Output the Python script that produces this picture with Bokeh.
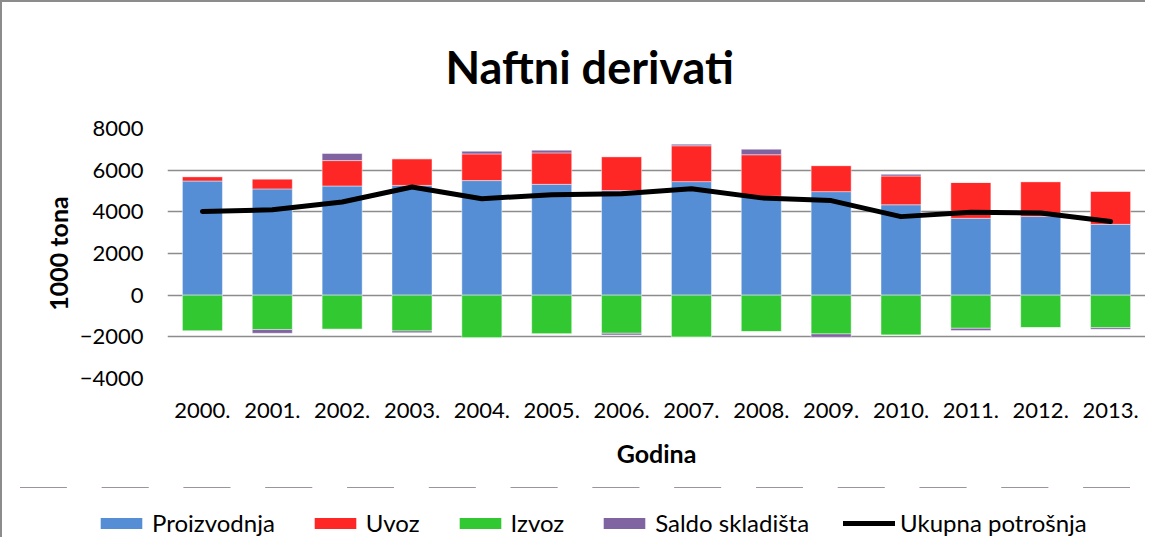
from bokeh.plotting import figure
from bokeh.layouts import column, row
from bokeh.models import (Range1d, FactorRange, FixedTicker, Legend, LegendItem,
                          ColumnDataSource)
from bokeh.embed import file_html
from bokeh.resources import INLINE

years = ["2000.", "2001.", "2002.", "2003.", "2004.", "2005.", "2006.",
         "2007.", "2008.", "2009.", "2010.", "2011.", "2012.", "2013."]
proizvodnja = [5480, 5100, 5240, 5270, 5500, 5320, 5020, 5450, 4750, 4970, 4340, 3690, 3780, 3400]
uvoz = [210, 480, 1220, 1280, 1280, 1510, 1630, 1720, 1990, 1250, 1380, 1720, 1670, 1590]
izvoz = [-1720, -1650, -1640, -1720, -2050, -1860, -1830, -2020, -1750, -1860, -1920, -1590, -1560, -1560]
saldo = [0, -180, 340, -80, 130, 130, -80, 80, 270, -160, 80, -110, 0, -80]
potrosnja = [4020, 4100, 4470, 5190, 4630, 4820, 4870, 5110, 4670, 4540, 3770, 3980, 3940, 3540]
y_ticks = [-4000, -2000, 0, 2000, 4000, 6000, 8000]
series_names = ["Proizvodnja", "Uvoz", "Izvoz", "Saldo skladišta", "Ukupna potrošnja"]

FONT = "Lato"
C_BLUE = "#558ED5"
C_RED = "#FF2626"
C_GREEN = "#32C832"
C_PURPLE = "#8064A2"
BORDER = "2px solid #8c8c8c"

pu_top = [a + b for a, b in zip(proizvodnja, uvoz)]
src = ColumnDataSource(dict(
    x=years,
    zero=[0] * len(years),
    pro=proizvodnja,
    pu=pu_top,
    izv=izvoz,
    s_pos_top=[t + max(s, 0) for t, s in zip(pu_top, saldo)],
    s_neg_bot=[i + min(s, 0) for i, s in zip(izvoz, saldo)],
    tot=potrosnja,
))

p = figure(x_range=FactorRange(factors=years, range_padding=0),
           y_range=Range1d(-4000, 8000),
           width=1145, height=487, output_backend="svg", toolbar_location=None,
           min_border_left=165, min_border_right=2, min_border_top=112, min_border_bottom=111)
p.styles = {"border-left": BORDER, "border-top": BORDER}

W = 0.573
LINE_KW = dict(line_color="black", line_width=5, line_join="round", line_cap="round")


def add_series(fig, bar_line):
    kw = dict(width=W, line_color=bar_line, line_alpha=0.45, line_width=1)
    r1 = fig.vbar(x="x", bottom="zero", top="pro", source=src, fill_color=C_BLUE, **kw)
    r2 = fig.vbar(x="x", bottom="pro", top="pu", source=src, fill_color=C_RED, **kw)
    r3 = fig.vbar(x="x", bottom="izv", top="zero", source=src, fill_color=C_GREEN, **kw)
    r4 = fig.vbar(x="x", bottom="pu", top="s_pos_top", source=src, fill_color=C_PURPLE, **kw)
    fig.vbar(x="x", bottom="s_neg_bot", top="izv", source=src, fill_color=C_PURPLE, **kw)
    r6 = fig.line(x="x", y="tot", source=src, **LINE_KW)
    return [r1, r2, r3, r4, r6]


add_series(p, "white")

p.outline_line_color = None
p.xgrid.visible = False
p.ygrid.ticker = FixedTicker(ticks=y_ticks)
p.ygrid.grid_line_color = "#8c8c8c"
p.ygrid.grid_line_width = 1.6

p.yaxis.ticker = FixedTicker(ticks=y_ticks)
for ax in (p.xaxis[0], p.yaxis[0]):
    ax.axis_line_color = None
    ax.major_tick_line_color = None
    ax.minor_tick_line_color = None
    ax.major_tick_out = 0
    ax.major_label_text_font = FONT
    ax.major_label_text_font_size = "22px"
    ax.major_label_text_color = "black"
    ax.axis_label_text_font = FONT
    ax.axis_label_text_font_size = "25px"
    ax.axis_label_text_font_style = "bold"
    ax.axis_label_text_color = "black"

p.xaxis.axis_label = "Godina"
p.xaxis.major_label_standoff = 24
p.xaxis.axis_label_standoff = 17
p.yaxis.axis_label = "1000 tona"
p.yaxis.major_label_standoff = 24
p.yaxis.axis_label_standoff = 4

p.title.text = "Naftni derivati"
p.title.align = "left"
p.title.offset = 278
p.title.text_font = FONT
p.title.text_font_size = "45px"
p.title.text_font_style = "bold"
p.title.text_color = "black"
p.title.standoff = 70

# legend strip below the chart: same series styles, its y range shows no bars
p2 = figure(width=1145, height=50, x_range=FactorRange(factors=years),
            y_range=Range1d(-200000, -190000),
            output_backend="svg", toolbar_location=None, min_border=0,
            x_axis_location=None, y_axis_location=None)
p2.styles = {"border-left": BORDER}
p2.grid.visible = False
p2.outline_line_color = None
leg_renderers = add_series(p2, None)

legend = Legend(items=[LegendItem(label=n, renderers=[r]) for n, r in
                       zip(series_names, leg_renderers)],
                location=(93, 0), orientation="horizontal", glyph_width=52, glyph_height=14,
                label_standoff=5, spacing=34, padding=0, margin=0, border_line_color=None,
                background_fill_alpha=0, label_text_font=FONT, label_text_font_size="24px",
                label_text_color="black")
p2.add_layout(legend)

layout = column(p, row(p2), spacing=0)
open("out.html", "w").write(file_html(layout, INLINE))
